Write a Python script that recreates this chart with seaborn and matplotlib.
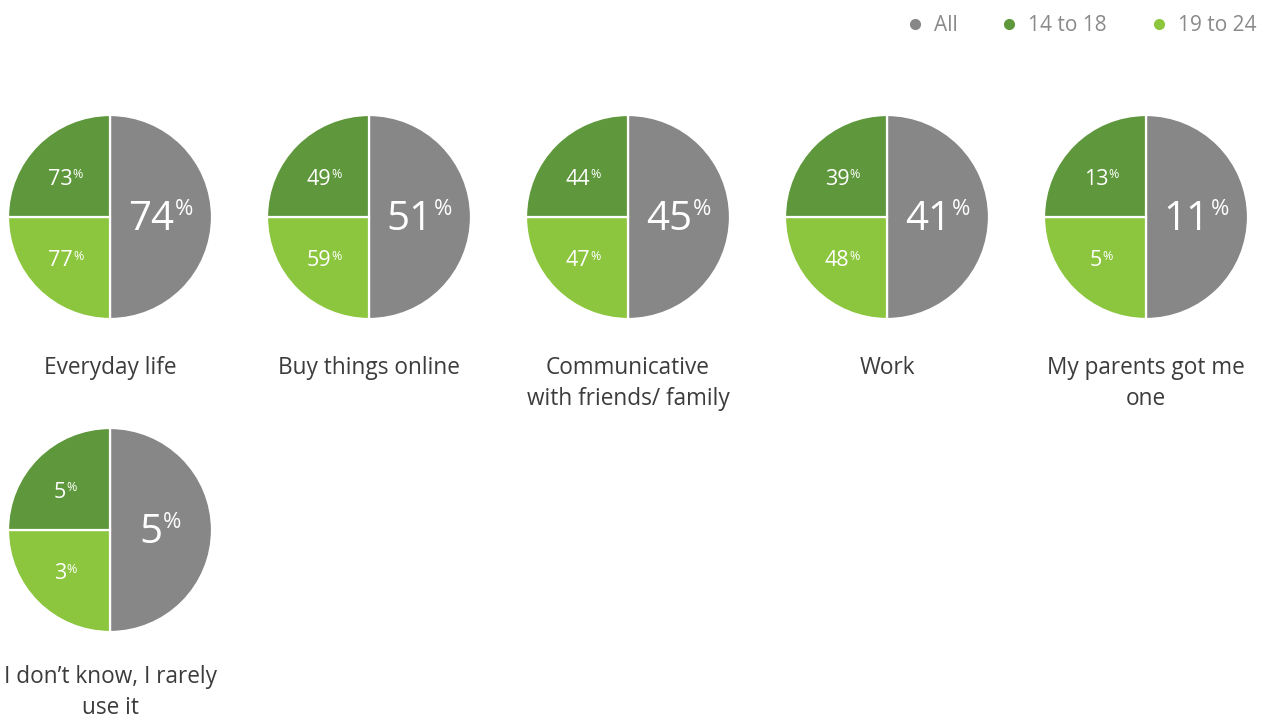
import matplotlib
matplotlib.use("Agg")
import matplotlib.pyplot as plt
from matplotlib.lines import Line2D
import seaborn as sns

categories = [
    "Everyday life",
    "Buy things online",
    "Communicative\nwith friends/ family",
    "Work",
    "My parents got me\none",
    "I don\u2019t know, I rarely\nuse it",
]
all_vals = [74, 51, 45, 41, 11, 5]
age_14_18 = [73, 49, 44, 39, 13, 5]
age_19_24 = [77, 59, 47, 48, 5, 3]
series_names = ["All", "14 to 18", "19 to 24"]

sns.set_theme(style="white")
plt.rcParams["font.family"] = ["Open Sans", "DejaVu Sans"]

GRAY, DARK_GREEN, LIGHT_GREEN = sns.color_palette(["#878787", "#5f983c", "#8cc63e"])
TEXT_COLOR = "#3c3c3c"
LEGEND_TEXT = "#8a8a8a"

W, H = 1271, 720
fig = plt.figure(figsize=(W / 100, H / 100), dpi=100)
ax = fig.add_axes([0, 0, 1, 1])

# layout of the grid of pies (pixel space, y measured from top)
R = 102
x0, dx = 110, 259
row_y = [217, 530]
label_gap = [139, 135]
per_row = 5


def add_value(x, y, value, size, pct_size):
    t = ax.text(x, y, f"{value}", ha="center", va="center", color="white",
                fontsize=size)
    ax.annotate("%", xy=(1.02, 1.02), xycoords=t, ha="left", va="top",
                color="white", fontsize=pct_size)


for i, cat in enumerate(categories):
    row = i // per_row
    cx = x0 + dx * (i % per_row)
    cy = H - row_y[row]
    # right half: all respondents; lower-left: 19 to 24; upper-left: 14 to 18
    ax.pie([2, 1, 1], colors=[GRAY, LIGHT_GREEN, DARK_GREEN], startangle=90,
           counterclock=False, center=(cx, cy), radius=R,
           wedgeprops=dict(edgecolor="white", linewidth=1.6))
    add_value(cx + 0.40 * R, cy - 3, all_vals[i], 29, 16)
    add_value(cx - 0.49 * R, cy + 0.37 * R, age_14_18[i], 15.5, 9)
    add_value(cx - 0.49 * R, cy - 0.43 * R, age_19_24[i], 15.5, 9)
    ax.text(cx, cy - label_gap[row], cat, ha="center", va="top",
            color=TEXT_COLOR, fontsize=16.3, linespacing=1.38)

ax.set_xlim(0, W)
ax.set_ylim(0, H)
ax.set_aspect("auto")
ax.axis("off")

handles = [Line2D([], [], marker="o", linestyle="", markersize=7, color=c)
           for c in (GRAY, DARK_GREEN, LIGHT_GREEN)]
leg = fig.legend(handles, series_names, loc="upper right", ncol=3,
                 bbox_to_anchor=(1.003, 1.005), frameon=False, fontsize=15,
                 handletextpad=0.5, columnspacing=2.1, handlelength=0.8)
for txt in leg.get_texts():
    txt.set_color(LEGEND_TEXT)

fig.savefig("out.png", dpi=100)
